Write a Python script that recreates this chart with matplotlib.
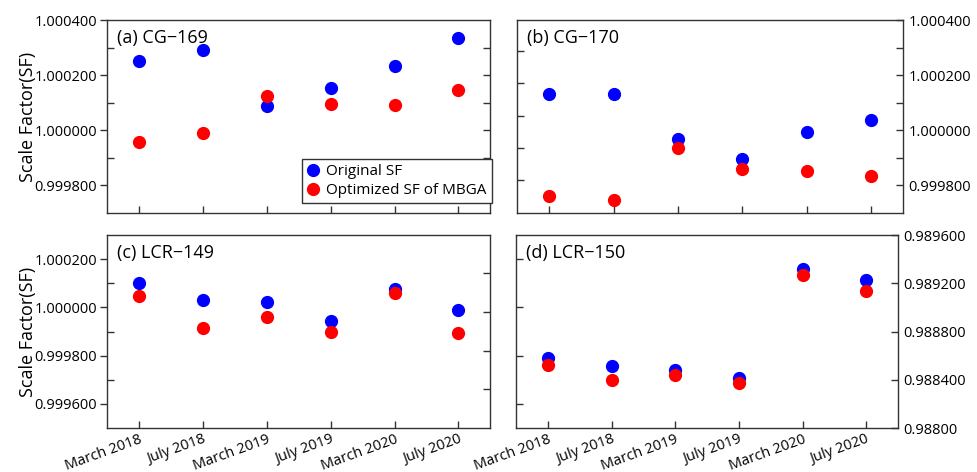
"""Scale factor comparison: original vs MBGA-optimised, four calibration sites."""

import matplotlib

matplotlib.use("Agg")

import matplotlib.pyplot as plt
from matplotlib.ticker import FixedLocator, NullFormatter

plt.rcParams["font.family"] = ["Open Sans", "DejaVu Sans"]
plt.rcParams["axes.unicode_minus"] = True

campaigns = ["March 2018", "July 2018", "March 2019", "July 2019", "March 2020", "July 2020"]

cg169_original = [1.000252, 1.000293, 1.000087, 1.000152, 1.000234, 1.000335]
cg169_optimized = [0.999956, 0.999990, 1.000126, 1.000096, 1.000093, 1.000147]

cg170_original = [1.000130, 1.000130, 0.999970, 0.999895, 0.999994, 1.000038]
cg170_optimized = [0.999762, 0.999748, 0.999935, 0.999859, 0.999852, 0.999834]

lcr149_original = [1.000100, 1.000029, 1.000022, 0.999945, 1.000076, 0.999990]
lcr149_optimized = [1.000046, 0.999916, 0.999959, 0.999900, 1.000059, 0.999894]

lcr150_original = [0.988579, 0.988512, 0.988479, 0.988415, 0.989322, 0.989230]
lcr150_optimized = [0.988523, 0.988401, 0.988440, 0.988376, 0.989272, 0.989138]

BLUE = "#0000ff"
RED = "#ff0000"
SPINE = "#333333"
FS = 10.5

fig = plt.figure(figsize=(9.77, 4.72), dpi=100)


def panel(rect, title, orig, opt, ylim, label_ticks, label_text, label_side,
          minor_ticks, other_ticks, show_x):
    ax = fig.add_axes(rect)
    x = range(len(campaigns))
    ax.plot(x, orig, "o", color=BLUE, markersize=8.5, label="Original SF", zorder=3)
    ax.plot(x, opt, "o", color=RED, markersize=8.5, label="Optimized SF of MBGA", zorder=3)
    ax.set_xlim(-0.5, len(campaigns) - 0.5)
    ax.set_ylim(*ylim)
    for s in ax.spines.values():
        s.set_color(SPINE)
        s.set_linewidth(1.0)

    ax.set_xticks(list(x))
    if show_x:
        ax.set_xticklabels(campaigns, rotation=20, ha="right", rotation_mode="anchor",
                           fontsize=FS)
    else:
        ax.set_xticklabels([])
    ax.tick_params(axis="x", direction="in", length=5, width=1, color=SPINE, pad=3,
                   top=False)

    ax.set_yticks(label_ticks)
    ax.set_yticklabels(label_text, fontsize=FS)
    if label_side == "left":
        ax.tick_params(axis="y", which="major", direction="out", length=5, width=1,
                       color=SPINE, left=True, right=False, pad=2)
        ax.yaxis.set_minor_locator(FixedLocator(minor_ticks))
        ax.tick_params(axis="y", which="minor", direction="in", length=5, width=1,
                       color=SPINE, left=True, right=False)
        other = ax.secondary_yaxis("right")
    else:
        ax.yaxis.tick_right()
        ax.tick_params(axis="y", which="major", direction="in", length=5, width=1,
                       color=SPINE, left=False, right=True, pad=4)
        ax.yaxis.set_minor_locator(FixedLocator(minor_ticks))
        ax.tick_params(axis="y", which="minor", direction="in", length=5, width=1,
                       color=SPINE, left=False, right=True)
        other = ax.secondary_yaxis("left")
    other.set_yticks(other_ticks)
    other.yaxis.set_major_formatter(NullFormatter())
    other.tick_params(direction="in", length=5, width=1, color=SPINE)
    other.spines["right" if label_side == "left" else "left"].set_visible(False)

    ax.text(0.025, 0.955, title, transform=ax.transAxes, ha="left", va="top", fontsize=13)
    return ax


ax_a = panel([0.1095, 0.5487, 0.3925, 0.4089], "(a) CG\u2212169",
             cg169_original, cg169_optimized, (0.9997, 1.0004),
             [0.9998, 1.0, 1.0002, 1.0004], ["0.999800", "1.000000", "1.000200", "1.000400"],
             "left", [0.9999, 1.0001, 1.0003],
             [0.9998, 0.9999, 1.0, 1.0001, 1.0002, 1.0003], False)
ax_a.set_ylabel("Scale Factor(SF)", fontsize=13, labelpad=-2)
ax_a.legend(loc="lower right", bbox_to_anchor=(1.004, 0.05), fontsize=11,
            frameon=True, fancybox=False, edgecolor=SPINE, framealpha=1,
            handlelength=0.8, handletextpad=0.45, borderpad=0.35, labelspacing=0.25,
            borderaxespad=0).get_frame().set_linewidth(1.0)

panel([0.5292, 0.5487, 0.3951, 0.4089], "(b) CG\u2212170",
      cg170_original, cg170_optimized, (0.9997, 1.0004),
      [0.9998, 1.0, 1.0002, 1.0004], ["0.999800", "1.000000", "1.000200", "1.000400"],
      "right", [0.9999, 1.0001, 1.0003],
      [0.99982, 0.999936, 1.000052, 1.00017, 1.000288], False)

ax_c = panel([0.1095, 0.0932, 0.3925, 0.4089], "(c) LCR\u2212149",
             lcr149_original, lcr149_optimized, (0.9995, 1.0003),
             [0.9996, 0.9998, 1.0, 1.0002], ["0.999600", "0.999800", "1.000000", "1.000200"],
             "left", [0.9997, 0.9999, 1.0001],
             [0.99966, 0.99982, 0.99998, 1.000141], True)
ax_c.set_ylabel("Scale Factor(SF)", fontsize=13, labelpad=-2)

panel([0.5282, 0.0932, 0.3910, 0.4089], "(d) LCR\u2212150",
      lcr150_original, lcr150_optimized, (0.9880, 0.9896),
      [0.9880, 0.9884, 0.9888, 0.9892, 0.9896],
      ["0.98800", "0.988400", "0.988800", "0.989200", "0.989600"],
      "right", [],
      [0.9882, 0.9886, 0.9890, 0.9894], True)

fig.savefig("out.png", dpi=100)
plt.close(fig)
